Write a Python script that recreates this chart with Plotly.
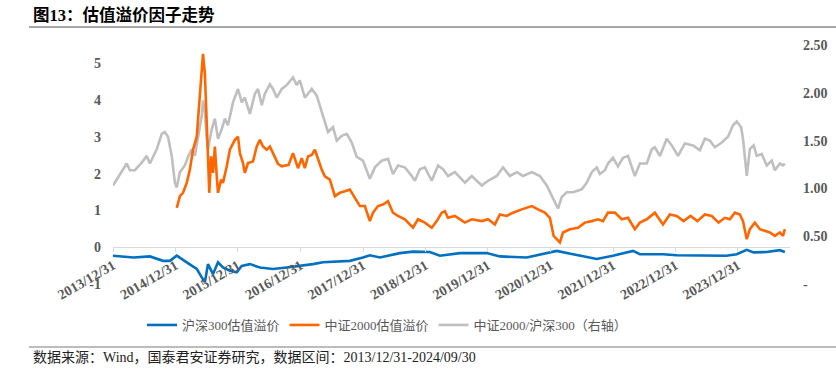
import pandas as pd
import plotly.graph_objects as go

# ---------------- data ----------------
# time offsets in years after 2013/12/31
gray_t = [0.00, 0.11, 0.22, 0.27, 0.35, 0.46, 0.54, 0.59, 0.70, 0.78, 0.83, 0.88, 0.94, 0.99, 1.02,
          1.07, 1.15, 1.20, 1.26, 1.31, 1.36, 1.42, 1.44, 1.47, 1.50, 1.52, 1.58, 1.63, 1.68, 1.74,
          1.79, 1.84, 1.92, 2.00, 2.06, 2.11, 2.19, 2.27, 2.32, 2.38, 2.43, 2.51, 2.56, 2.62, 2.70,
          2.78, 2.88, 2.94, 2.99, 3.07, 3.18, 3.26, 3.34, 3.39, 3.44, 3.52, 3.58, 3.66, 3.74, 3.82,
          3.90, 4.00, 4.11, 4.19, 4.30, 4.40, 4.48, 4.56, 4.67, 4.78, 4.83, 4.91, 4.99, 5.10, 5.20,
          5.28, 5.36, 5.47, 5.63, 5.74, 5.90, 6.00, 6.14, 6.24, 6.35, 6.46, 6.56, 6.70, 6.83, 6.94,
          7.02, 7.07, 7.12, 7.18, 7.26, 7.36, 7.50, 7.58, 7.66, 7.74, 7.79, 7.87, 7.92, 8.00, 8.08,
          8.16, 8.24, 8.35, 8.43, 8.54, 8.62, 8.67, 8.75, 8.86, 8.94, 9.04, 9.15, 9.28, 9.39, 9.47,
          9.55, 9.63, 9.74, 9.84, 9.92, 9.98, 10.05, 10.08, 10.14, 10.19, 10.25, 10.30, 10.38, 10.46,
          10.54, 10.59, 10.67, 10.72, 10.75]
gray_v = [1.03, 1.15, 1.26, 1.19, 1.19, 1.27, 1.34, 1.26, 1.41, 1.57, 1.59, 1.54, 1.34, 1.06, 1.01,
          1.17, 1.24, 1.33, 1.41, 1.34, 1.52, 1.76, 1.92, 1.81, 1.52, 1.41, 1.62, 1.73, 1.52, 1.62,
          1.73, 1.66, 1.90, 2.04, 1.90, 1.95, 1.78, 1.99, 2.04, 1.87, 1.99, 2.09, 2.04, 1.95, 2.04,
          2.08, 2.16, 2.08, 2.13, 1.95, 2.04, 1.97, 1.80, 1.69, 1.59, 1.64, 1.50, 1.55, 1.57, 1.48,
          1.33, 1.29, 1.10, 1.22, 1.29, 1.31, 1.15, 1.24, 1.22, 1.13, 1.08, 1.20, 1.22, 1.08, 1.24,
          1.20, 1.13, 1.17, 1.06, 1.13, 1.03, 1.08, 1.13, 1.22, 1.13, 1.17, 1.13, 1.17, 1.13, 1.03,
          0.92, 0.86, 0.79, 0.91, 0.96, 0.96, 0.99, 1.06, 1.17, 1.22, 1.15, 1.19, 1.26, 1.32, 1.23,
          1.32, 1.34, 1.13, 1.26, 1.26, 1.41, 1.43, 1.34, 1.52, 1.45, 1.34, 1.47, 1.45, 1.40, 1.52,
          1.50, 1.43, 1.48, 1.54, 1.66, 1.70, 1.64, 1.52, 1.13, 1.41, 1.45, 1.34, 1.36, 1.24,
          1.29, 1.19, 1.26, 1.24, 1.26]

orange_t = [1.02, 1.07, 1.12, 1.18, 1.23, 1.28, 1.34, 1.39, 1.42, 1.44, 1.47, 1.49, 1.52, 1.54, 1.57,
            1.60, 1.63, 1.66, 1.68, 1.73, 1.76, 1.82, 1.87, 1.95, 2.00, 2.03, 2.08, 2.11, 2.16, 2.24,
            2.30, 2.35, 2.40, 2.46, 2.51, 2.56, 2.64, 2.70, 2.81, 2.88, 2.96, 3.02, 3.07, 3.12, 3.18,
            3.23, 3.28, 3.34, 3.39, 3.47, 3.55, 3.63, 3.71, 3.79, 3.87, 3.95, 4.03, 4.11, 4.16, 4.24,
            4.32, 4.40, 4.48, 4.56, 4.67, 4.80, 4.88, 4.99, 5.10, 5.18, 5.26, 5.31, 5.36, 5.47, 5.63,
            5.74, 5.90, 6.00, 6.11, 6.19, 6.30, 6.40, 6.54, 6.70, 6.80, 6.91, 6.99, 7.05, 7.10, 7.15,
            7.20, 7.31, 7.44, 7.55, 7.66, 7.76, 7.84, 7.92, 8.03, 8.14, 8.24, 8.35, 8.43, 8.54, 8.67,
            8.80, 8.91, 9.02, 9.13, 9.24, 9.35, 9.47, 9.58, 9.69, 9.79, 9.87, 9.95, 10.03, 10.08,
            10.14, 10.19, 10.27, 10.35, 10.43, 10.51, 10.59, 10.67, 10.72, 10.75]
orange_v = [1.07, 1.39, 1.48, 1.75, 2.11, 2.65, 3.01, 4.27, 4.99, 5.26, 4.72, 3.55, 2.47, 1.48, 2.47,
            2.02, 2.74, 1.93, 1.48, 1.84, 1.75, 2.20, 2.65, 2.92, 3.01, 2.56, 2.29, 2.02, 2.29, 2.33,
            2.74, 2.92, 2.74, 2.65, 2.74, 2.56, 2.27, 2.20, 2.24, 2.56, 2.15, 2.42, 2.15, 2.47, 2.51,
            2.65, 2.38, 2.11, 1.93, 1.84, 1.39, 1.48, 1.52, 1.57, 1.34, 1.12, 1.12, 0.71, 0.94, 1.12,
            1.16, 1.25, 0.94, 0.85, 0.76, 0.53, 0.76, 0.67, 0.53, 0.71, 0.94, 0.98, 0.80, 0.85, 0.67,
            0.76, 0.71, 0.76, 0.62, 0.89, 0.85, 0.94, 1.03, 1.12, 1.03, 0.94, 0.80, 0.31, 0.22, 0.13,
            0.40, 0.49, 0.53, 0.67, 0.71, 0.76, 0.71, 0.94, 0.94, 0.76, 0.80, 0.49, 0.67, 0.76, 0.94,
            0.62, 0.89, 0.85, 0.71, 0.85, 0.71, 0.89, 0.85, 0.67, 0.80, 0.76, 0.94, 0.89, 0.71,
            0.22, 0.49, 0.67, 0.49, 0.44, 0.40, 0.31, 0.40, 0.31, 0.49]

blue_t = [0.00, 0.33, 0.59, 0.80, 0.91, 1.02, 1.18, 1.34, 1.42, 1.47, 1.52, 1.60, 1.68, 1.76, 1.87,
          1.98, 2.06, 2.19, 2.35, 2.56, 2.78, 2.99, 3.20, 3.36, 3.58, 3.79, 4.00, 4.11, 4.27, 4.48,
          4.59, 4.80, 5.07, 5.23, 5.55, 5.98, 6.19, 6.62, 6.88, 7.10, 7.36, 7.74, 8.00, 8.32, 8.43,
          8.64, 8.80, 9.02, 9.39, 9.81, 9.98, 10.14, 10.25, 10.46, 10.67, 10.75]
blue_v = [-0.23, -0.28, -0.25, -0.37, -0.37, -0.23, -0.41, -0.59, -0.82, -0.95, -0.46, -0.73, -0.41,
          -0.55, -0.64, -0.68, -0.51, -0.46, -0.55, -0.59, -0.55, -0.51, -0.46, -0.41, -0.40, -0.37,
          -0.28, -0.22, -0.28, -0.19, -0.16, -0.12, -0.13, -0.23, -0.16, -0.16, -0.25, -0.28, -0.19,
          -0.10, -0.19, -0.32, -0.23, -0.10, -0.19, -0.19, -0.19, -0.22, -0.22, -0.23, -0.19, -0.07,
          -0.14, -0.13, -0.08, -0.13]

tick_labels = ["2013/12/31", "2014/12/31", "2015/12/31", "2016/12/31", "2017/12/31", "2018/12/31",
               "2019/12/31", "2020/12/31", "2021/12/31", "2022/12/31", "2023/12/31"]
left_ticks = [-1, 0, 1, 2, 3, 4, 5]
left_ticktext = ["-1", "0", "1", "2", "3", "4", "5"]
right_ticks = [0, 0.5, 1.0, 1.5, 2.0, 2.5]
right_ticktext = ["-", "0.50", "1.00", "1.50", "2.00", "2.50"]

names = ["沪深300估值溢价", "中证2000估值溢价", "中证2000/沪深300（右轴）"]
title_text = "图13：估值溢价因子走势"
source_text = "数据来源：Wind，国泰君安证券研究，数据区间：2013/12/31-2024/09/30"

# ---------------- helpers ----------------
base = pd.Timestamp("2013-12-31")


def to_dates(ts):
    return [base + pd.to_timedelta(t * 365.25, unit="D") for t in ts]


W, H = 836, 373
L, R, T, B = 113, 790, 45, 284  # plot area in pixels


def px2x(px):
    return (px - L) / (R - L)


def px2y(py):
    return (B - py) / (B - T)


FONT = "Liberation Serif, 'Times New Roman', 'Noto Sans CJK SC', serif"
GREY_TXT = "#595959"

fig = go.Figure()
# right-axis series is on primary axis (drawn underneath)
fig.add_trace(go.Scatter(x=to_dates(gray_t), y=gray_v, name=names[2], mode="lines",
                         line=dict(color="#BFBFBF", width=2.6), yaxis="y", legendrank=3))
fig.add_trace(go.Scatter(x=to_dates(orange_t), y=orange_v, name=names[1], mode="lines",
                         line=dict(color="#FF6600", width=2.6), yaxis="y2", legendrank=2))
fig.add_trace(go.Scatter(x=to_dates(blue_t), y=blue_v, name=names[0], mode="lines",
                         line=dict(color="#0070C0", width=2.6), yaxis="y2", legendrank=1))

left_min, left_max = -1, 5.5
x_end = base + pd.to_timedelta((R - L) / 62.5 * 365.25, unit="D")
tick_dates = [pd.Timestamp(s.replace("/", "-")) for s in tick_labels]

fig.update_layout(
    width=W, height=H, autosize=False,
    margin=dict(l=L, r=W - R, t=T, b=H - B, pad=0, autoexpand=False),
    paper_bgcolor="white", plot_bgcolor="white",
    font=dict(family=FONT, color=GREY_TXT, size=13),
    xaxis=dict(
        type="date", range=[base, x_end], automargin=False,
        tickmode="array", tickvals=tick_dates, ticktext=tick_labels,
        tickangle=-30, tickfont=dict(family=FONT, size=14, color=GREY_TXT, weight="bold"),
        showgrid=False, zeroline=False,
        showline=True, linecolor="#D9D9D9", linewidth=1,
        ticks="outside", ticklen=4, tickcolor="#D9D9D9",
        anchor="free", position=(0 - left_min) / (left_max - left_min),
    ),
    yaxis=dict(
        side="right", range=[0, 2.5], tickmode="array", automargin=False,
        tickvals=right_ticks, ticktext=right_ticktext,
        tickfont=dict(family=FONT, size=14, color=GREY_TXT, weight="bold"),
        showgrid=False, zeroline=False, showline=False, ticks="",
        ticklabelstandoff=12,
    ),
    yaxis2=dict(
        side="left", overlaying="y", range=[left_min, left_max], tickmode="array", automargin=False,
        tickvals=left_ticks, ticktext=left_ticktext,
        tickfont=dict(family=FONT, size=14, color=GREY_TXT, weight="bold"),
        showgrid=False, zeroline=False, showline=False, ticks="",
        ticklabelstandoff=11,
    ),
    legend=dict(
        orientation="h", x=px2x(142), y=px2y(325), xanchor="left", yanchor="middle",
        font=dict(family=FONT, size=13, color=GREY_TXT), itemwidth=30,
        bgcolor="rgba(0,0,0,0)", traceorder="normal",
    ),
    showlegend=True,
)

# title & source lines
fig.add_shape(type="line", xref="paper", yref="paper", x0=px2x(29), x1=px2x(836),
              y0=px2y(27), y1=px2y(27), line=dict(color="#A6A6A6", width=2))
fig.add_shape(type="line", xref="paper", yref="paper", x0=px2x(29), x1=px2x(836),
              y0=px2y(347), y1=px2y(347), line=dict(color="#A6A6A6", width=1.5))

fig.add_annotation(text="<b>" + title_text + "</b>", xref="paper", yref="paper",
                   x=px2x(31), y=px2y(15), xanchor="left", yanchor="middle", showarrow=False,
                   font=dict(family=FONT, size=16.5, color="#000000"))
fig.add_annotation(text=source_text, xref="paper", yref="paper",
                   x=px2x(31), y=px2y(357), xanchor="left", yanchor="middle", showarrow=False,
                   font=dict(family=FONT, size=14, color="#222222"))

fig.write_html("out.html", config={"displayModeBar": False},
               post_script="document.body.style.margin='0px';document.body.style.overflow='hidden';")
